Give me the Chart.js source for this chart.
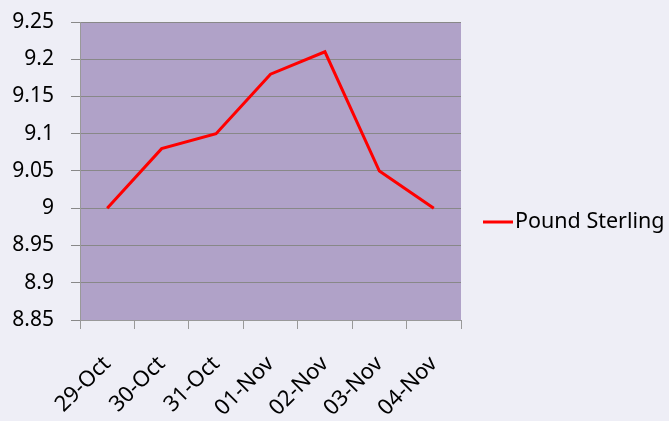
<!DOCTYPE html>
<html>
<head>
<meta charset="utf-8">
<script src="https://cdn.jsdelivr.net/npm/chart.js@4/dist/chart.umd.min.js"></script>
<style>
  html, body { margin: 0; padding: 0; background: #eeeef6; }
  #wrap { width: 669px; height: 421px; position: relative; }
</style>
</head>
<body>
<div id="wrap"><canvas id="c"></canvas></div>
<script>
// ---------- DATA ----------
const categories = ["29-Oct", "30-Oct", "31-Oct", "01-Nov", "02-Nov", "03-Nov", "04-Nov"];
const poundSterling = [9.0, 9.08, 9.1, 9.18, 9.21, 9.05, 9.0];
const seriesName = "Pound Sterling";
const yMin = 8.85, yMax = 9.25, yStep = 0.05;

const FONT = "'Noto Sans', sans-serif";

// purple plot background
const plotBg = {
  id: "plotBg",
  beforeDraw(chart) {
    const a = chart.chartArea, ctx = chart.ctx;
    ctx.save();
    ctx.fillStyle = "#b0a2c8";
    ctx.fillRect(a.left, a.top, a.right - a.left, a.bottom - a.top);
    ctx.restore();
  }
};

// legend drawn by hand: red line + text
const sideLegend = {
  id: "sideLegend",
  afterDraw(chart) {
    const ctx = chart.ctx;
    const ds = chart.data.datasets[0];
    const y = 222;
    ctx.save();
    ctx.strokeStyle = ds.borderColor;
    ctx.lineWidth = 3;
    ctx.beginPath();
    ctx.moveTo(483, y);
    ctx.lineTo(513, y);
    ctx.stroke();
    ctx.fillStyle = "#000";
    ctx.font = "21.5px " + FONT;
    ctx.textBaseline = "middle";
    ctx.fillText(ds.label, 515, y);
    ctx.restore();
  }
};

new Chart(document.getElementById("c"), {
  type: "line",
  data: {
    labels: categories,
    datasets: [{
      label: seriesName,
      data: poundSterling,
      borderColor: "#ff0000",
      borderWidth: 3,
      pointRadius: 0,
      tension: 0,
      fill: false
    }]
  },
  options: {
    responsive: true,
    maintainAspectRatio: false,
    animation: false,
    layout: { padding: { top: 22, right: 208, left: 0, bottom: 0 } },
    plugins: { legend: { display: false }, tooltip: { enabled: false } },
    scales: {
      x: {
        offset: true,
        grid: { offset: true, drawOnChartArea: false, color: "#999", tickLength: 9 },
        border: { color: "#999", width: 1 },
        ticks: {
          color: "#000",
          font: { family: FONT, size: 22 },
          minRotation: 45, maxRotation: 45,
          padding: 22
        },
        afterFit(s) { s.height = 101; s.paddingLeft = 0; s.paddingRight = 0; }
      },
      y: {
        min: yMin, max: yMax,
        grid: { color: "#888", tickLength: 9 },
        border: { color: "#999", width: 1 },
        ticks: {
          stepSize: yStep,
          color: "#000",
          font: { family: FONT, size: 21 },
          padding: 17,
          callback: (v) => +v.toFixed(2)
        },
        afterFit(s) { s.width = 80; s.paddingTop = 0; s.paddingBottom = 0; }
      }
    }
  },
  plugins: [plotBg, sideLegend]
});
</script>
</body>
</html>
